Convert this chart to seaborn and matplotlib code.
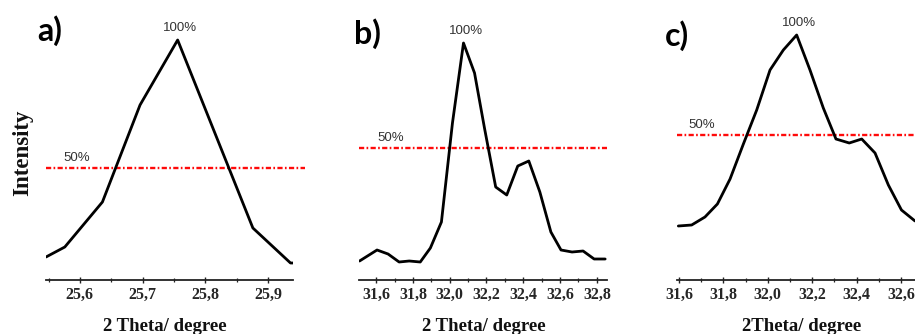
import matplotlib
matplotlib.use("Agg")
import matplotlib.pyplot as plt
import seaborn as sns
import pandas as pd
from matplotlib.ticker import MultipleLocator, FuncFormatter

# ---------------- data ----------------
theta_a = [25.546, 25.576, 25.636, 25.696, 25.756, 25.816, 25.876, 25.936, 25.940]
int_a = [23, 33, 78, 175, 240, 146, 52, 17, 17]
half_a = 112

theta_b = [31.510, 31.605, 31.665, 31.725, 31.780, 31.840, 31.895, 31.955, 32.015,
           32.075, 32.135, 32.190, 32.250, 32.310, 32.370, 32.430, 32.490, 32.550,
           32.605, 32.665, 32.725, 32.785, 32.845]
int_b = [19, 30, 26, 18, 19, 18, 32, 58, 157,
         237, 207, 151, 93, 85, 114, 119, 88, 48,
         30, 28, 29, 21, 21]
half_b = 132

theta_c = [31.597, 31.657, 31.717, 31.773, 31.830, 31.890, 31.950, 32.010, 32.070,
           32.130, 32.190, 32.250, 32.307, 32.367, 32.423, 32.483, 32.543, 32.602,
           32.663]
int_c = [54, 55, 63, 76, 101, 136, 170, 210, 230,
         245, 210, 172, 141, 137, 141, 127, 95, 70,
         59]
half_c = 145

panel_tags = ["a)", "b)", "c)"]
xlabels = ["2 Theta/ degree", "2 Theta/ degree", "2Theta/ degree"]
ylabel = "Intensity"
peak_text = "100%"
half_text = "50%"

# ---------------- figure ----------------
sns.set_theme(style="white")
plt.rcParams['font.family'] = ['Liberation Serif', 'DejaVu Sans']

W, H = 915, 334
fig = plt.figure(figsize=(W / 100, H / 100), dpi=100)


def axes_px(left, right, bottom, top):
    return fig.add_axes([left / W, (H - bottom) / H, (right - left) / W, (bottom - top) / H])


panels = [
    dict(theta=theta_a, inten=int_a, half=half_a, box=(46, 293, 280, 10),
         xlim=(25.546, 25.940), major=0.1, minor=0.05, red_end=1.05,
         tag_xy=(37, 31), xl_x=0.48, half_dx=31),
    dict(theta=theta_b, inten=int_b, half=half_b, box=(359, 607, 280, 10),
         xlim=(31.507, 32.855), major=0.2, minor=0.1, red_end=1.0,
         tag_xy=(354, 34), xl_x=0.505, half_dx=32),
    dict(theta=theta_c, inten=int_c, half=half_c, box=(677, 915, 280, 10),
         xlim=(31.591, 32.663), major=0.2, minor=0.1, red_end=1.0,
         tag_xy=(665, 36), xl_x=0.525, half_dx=25),
]

comma = FuncFormatter(lambda v, p: f"{v:.1f}".replace(".", ","))

for i, p in enumerate(panels):
    ax = axes_px(*p["box"])
    df = pd.DataFrame({"theta": p["theta"], "intensity": p["inten"]})
    sns.lineplot(data=df, x="theta", y="intensity", ax=ax, color="black",
                 lw=2.0, sort=False, estimator=None)
    ax.axhline(p["half"], xmin=0, xmax=p["red_end"], color="#ff0a0a", lw=1.7,
               linestyle=(0, (2.2, 1.0, 0.7, 1.0)), clip_on=False, zorder=1)
    ax.set_xlim(*p["xlim"])
    ax.set_ylim(0, 270)
    ax.set_facecolor("none")
    for s in ["top", "right", "left"]:
        ax.spines[s].set_visible(False)
    ax.spines["bottom"].set_color("#222222")
    ax.spines["bottom"].set_linewidth(1.3)
    ax.set_yticks([])
    ax.set_ylabel("")
    ax.xaxis.set_major_locator(MultipleLocator(p["major"]))
    ax.xaxis.set_minor_locator(MultipleLocator(p["minor"]))
    ax.xaxis.set_major_formatter(comma)
    ax.tick_params(axis="x", which="major", direction="inout", length=5, width=1.0,
                   color="#222222", pad=2.5, labelsize=11.5)
    ax.tick_params(axis="x", which="minor", direction="inout", length=3, width=0.9,
                   color="#222222")
    ax.xaxis.set_ticks_position("bottom")
    for lab in ax.get_xticklabels():
        lab.set_fontweight("bold")
    ax.set_xlabel(xlabels[i], fontsize=13.5, fontweight="bold", color="#111111")
    ax.xaxis.set_label_coords(p["xl_x"], -0.14)

    # 100% label above the peak
    k = max(range(len(p["inten"])), key=lambda j: p["inten"][j])
    ax.annotate(peak_text, xy=(p["theta"][k], p["inten"][k]), xytext=(2, 8.5),
                textcoords="offset points", ha="center", va="center",
                fontsize=9.5, color="#333333", family=["Liberation Sans", "DejaVu Sans"])
    # 50% label above the red line
    ax.annotate(half_text, xy=(0, p["half"]), xycoords=("axes fraction", "data"),
                xytext=(p["half_dx"] * 0.72, 7.5), textcoords="offset points",
                ha="center", va="center", fontsize=9.5, color="#333333",
                family=["Liberation Sans", "DejaVu Sans"])
    # panel tag
    tx, ty = p["tag_xy"]
    fig.text(tx / W, (H - ty) / H, panel_tags[i], ha="left", va="center",
             fontsize=23, fontweight="bold", color="black",
             family=["Lato", "DejaVu Sans"])

fig.text(23 / W, (H - 153) / H, ylabel, rotation=90, ha="center", va="center",
         fontsize=16.5, fontweight="bold", color="#111111",
         family=["Liberation Serif", "DejaVu Serif"])

fig.savefig("out.png", dpi=100, facecolor="white")
